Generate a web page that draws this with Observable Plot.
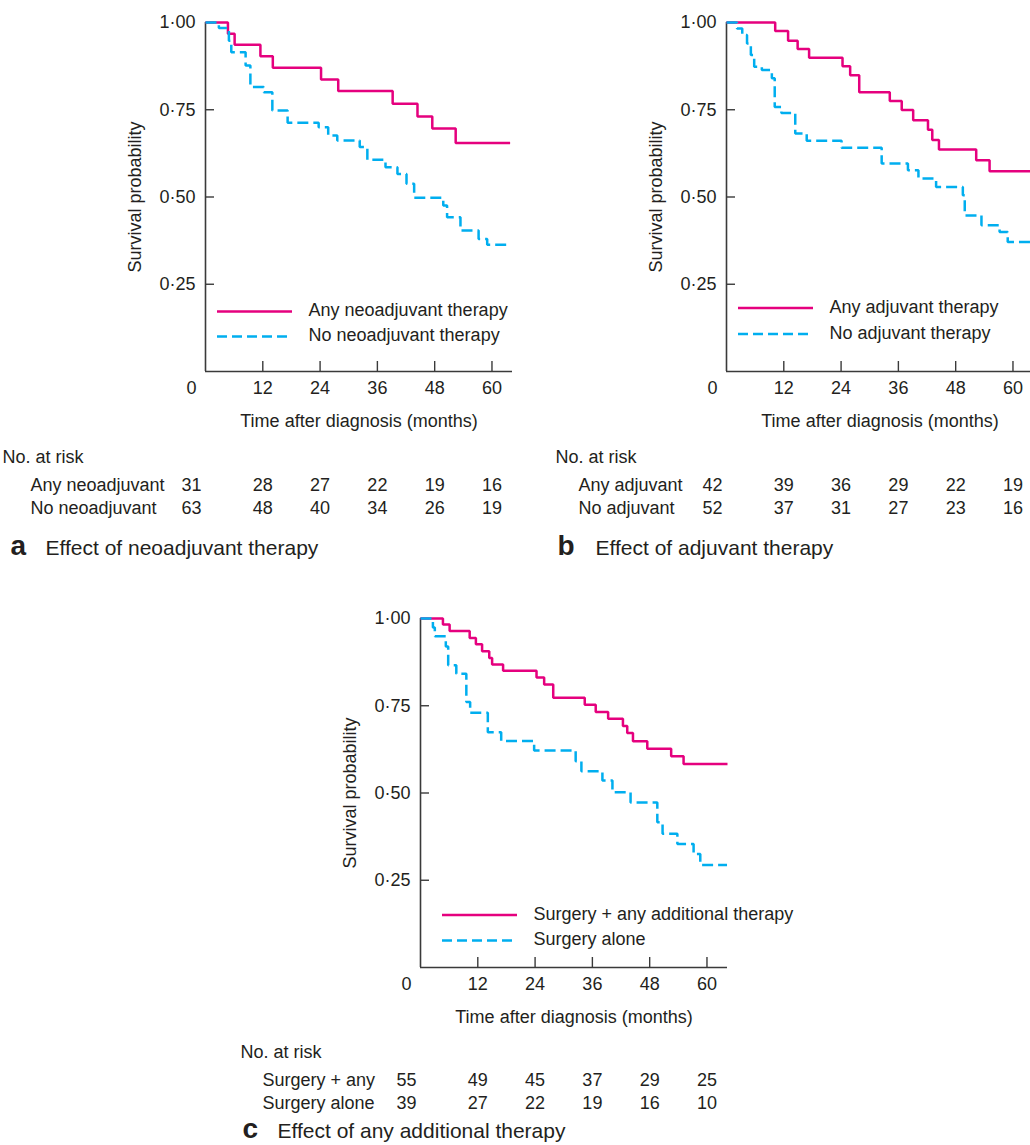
<!DOCTYPE html>
<html><head><meta charset="utf-8">
<script src="https://cdn.jsdelivr.net/npm/d3@7"></script>
<script src="https://cdn.jsdelivr.net/npm/@observablehq/plot@0.6"></script>
<style>
body{margin:0;background:#fff;}
#fig{position:relative;width:1030px;height:1145px;overflow:hidden;background:#fff;}
.panel{position:absolute;}
.panel svg{max-width:none !important;}
</style></head><body><div id="fig"></div>
<script>
// ---------- data ----------
const riskTimes = [0, 12, 24, 36, 48, 60];
const yTicks = [0.25, 0.5, 0.75, 1];
const xTitle = "Time after diagnosis (months)";
const yTitle = "Survival probability";

// Panel a
const aPinkT = [0, 4.7, 6.1, 11.5, 14.1, 24.2, 27.8, 39.2, 44.4, 47.5, 52.4, 63.8];
const aPinkS = [1, 0.968, 0.936, 0.903, 0.870, 0.837, 0.804, 0.767, 0.731, 0.696, 0.655, 0.655];
const aBlueT = [0, 2.8, 4.9, 5.4, 8.4, 9.4, 12.2, 14.0, 17.2, 23.7, 25.7, 27.6, 32.3, 33.9, 37.7, 40.2, 42.1, 43.7, 49.8, 50.6, 53.4, 57.2, 59.0, 63.9];
const aBlueS = [1, 0.984, 0.948, 0.915, 0.877, 0.815, 0.800, 0.748, 0.713, 0.700, 0.676, 0.662, 0.643, 0.607, 0.585, 0.566, 0.538, 0.498, 0.476, 0.442, 0.404, 0.380, 0.363, 0.363];
const aLegend = ["Any neoadjuvant therapy", "No neoadjuvant therapy"];
const aRows = ["Any neoadjuvant", "No neoadjuvant"];
const aRisk1 = [31, 28, 27, 22, 19, 16];
const aRisk2 = [63, 48, 40, 34, 26, 19];
const aCaption = ["a", "Effect of neoadjuvant therapy"];

// Panel b
const bPinkT = [0, 10.2, 12.9, 14.9, 17.3, 24.3, 25.9, 27.8, 34.2, 36.7, 39.1, 42.2, 43.1, 44.5, 52.3, 55.1, 64.3];
const bPinkS = [1, 0.976, 0.948, 0.924, 0.899, 0.875, 0.849, 0.800, 0.775, 0.749, 0.720, 0.693, 0.663, 0.636, 0.605, 0.574, 0.574];
const bBlueT = [0, 2.2, 3.3, 4.3, 5.1, 5.8, 7.4, 9.5, 10.1, 11.5, 14.4, 16.8, 24.1, 32.5, 38.0, 40.2, 43.9, 49.5, 49.9, 53.4, 57.2, 58.9, 64.3];
const bBlueS = [1, 0.983, 0.964, 0.940, 0.907, 0.873, 0.864, 0.840, 0.758, 0.741, 0.682, 0.661, 0.641, 0.596, 0.577, 0.553, 0.529, 0.505, 0.447, 0.419, 0.400, 0.371, 0.371];
const bLegend = ["Any adjuvant therapy", "No adjuvant therapy"];
const bRows = ["Any adjuvant", "No adjuvant"];
const bRisk1 = [42, 39, 36, 29, 22, 19];
const bRisk2 = [52, 37, 31, 27, 23, 16];
const bCaption = ["b", "Effect of adjuvant therapy"];

// Panel c
const cPinkT = [0, 4.7, 6.1, 10.3, 11.6, 12.9, 14.4, 15.0, 17.3, 24.3, 25.9, 27.8, 34.4, 36.7, 39.3, 42.4, 43.3, 44.5, 47.5, 52.5, 55.1, 64.3];
const cPinkS = [1, 0.983, 0.964, 0.944, 0.926, 0.906, 0.887, 0.868, 0.850, 0.831, 0.811, 0.773, 0.753, 0.732, 0.713, 0.692, 0.672, 0.648, 0.627, 0.605, 0.583, 0.583];
const cBlueT = [0, 2.6, 3.0, 5.3, 5.8, 7.5, 9.6, 10.4, 14.1, 16.9, 23.8, 32.5, 33.7, 38.1, 40.2, 44.0, 49.6, 50.7, 53.8, 57.2, 58.6, 64.2];
const cBlueS = [1, 0.974, 0.949, 0.920, 0.866, 0.842, 0.761, 0.730, 0.674, 0.649, 0.622, 0.591, 0.562, 0.536, 0.502, 0.473, 0.416, 0.383, 0.354, 0.325, 0.294, 0.294];
const cLegend = ["Surgery + any additional therapy", "Surgery alone"];
const cRows = ["Surgery + any", "Surgery alone"];
const cRisk1 = [55, 49, 45, 37, 29, 25];
const cRisk2 = [39, 27, 22, 19, 16, 10];
const cCaption = ["c", "Effect of any additional therapy"];

// ---------- style ----------
const PINK = "#e5007e";
const BLUE = "#00aeef";
const INK = "#231f20";
const AXIS = "#3a3a3a";
const FONT = "'Liberation Sans', Arial, Helvetica, sans-serif";

function steps(T, S) { return T.map((t, i) => ({t, s: S[i]})); }
function riskRow(arr) { return riskTimes.map((t, i) => ({t, n: arr[i]})); }
const fmtY = d => d3.format(".2f")(d).replace(".", "\u00b7");

function panel(p) {
  const H = p.height;
  const r1 = riskRow(p.risk1), r2 = riskRow(p.risk2);
  const first = d => d.t === 0, rest = d => d.t !== 0;
  const txt = {fill: INK};
  return Plot.plot({
    width: 520, height: H,
    marginTop: 22, marginLeft: 205, marginRight: 8, marginBottom: H - 371,
    x: {domain: [0, 64.3], axis: null},
    y: {domain: [0, 1], axis: null},
    style: {fontFamily: FONT, fontSize: "18px", color: INK, background: "transparent", overflow: "visible"},
    marks: [
      // axes
      Plot.ruleX([0], {stroke: AXIS, strokeWidth: 1.6}),
      Plot.ruleY([0], {stroke: AXIS, strokeWidth: 1.6}),
      Plot.tickY(yTicks, {y: d => d, insetRight: 298, stroke: AXIS, strokeWidth: 1.4}),
      Plot.tickX(riskTimes.filter(t => t > 0), {x: d => d, insetTop: 339, stroke: AXIS, strokeWidth: 1.4}),
      Plot.text(yTicks, {y: d => d, text: fmtY, frameAnchor: "left", dx: -10, textAnchor: "end", lineAnchor: "middle", ...txt}),
      Plot.text(riskTimes.filter(t => t === 0), {x: d => d, text: d => String(d), frameAnchor: "bottom", dx: -14, dy: 22, lineAnchor: "bottom", ...txt}),
      Plot.text(riskTimes.filter(t => t > 0), {x: d => d, text: d => String(d), frameAnchor: "bottom", dy: 22, lineAnchor: "bottom", ...txt}),
      Plot.text([xTitle], {text: d => d, frameAnchor: "bottom", dy: 55, lineAnchor: "bottom", ...txt}),
      Plot.text([yTitle], {text: d => d, frameAnchor: "left", dx: p.yTitleDx, rotate: -90, textAnchor: "middle", lineAnchor: "middle", ...txt}),
      // curves
      Plot.line(steps(p.pinkT, p.pinkS), {x: "t", y: "s", curve: "step-after", stroke: PINK, strokeWidth: 2.5, strokeLinecap: "butt", strokeLinejoin: "miter"}),
      Plot.line(steps(p.blueT, p.blueS), {x: "t", y: "s", curve: "step-after", stroke: BLUE, strokeWidth: 2.5, strokeDasharray: "11,5", strokeLinecap: "butt", strokeLinejoin: "miter"}),
      // legend
      Plot.ruleY([0], {dy: p.leg.dy1, insetLeft: p.leg.l, insetRight: p.leg.r, stroke: PINK, strokeWidth: 2.5}),
      Plot.ruleY([0], {dy: p.leg.dy2, insetLeft: p.leg.l, insetRight: p.leg.r, stroke: BLUE, strokeWidth: 2.5, strokeDasharray: "10,5"}),
      Plot.text(p.legend.slice(0, 1), {text: d => d, frameAnchor: "bottom-left", dx: p.leg.tx, dy: p.leg.dy1 - 1, textAnchor: "start", lineAnchor: "middle", ...txt}),
      Plot.text(p.legend.slice(1, 2), {text: d => d, frameAnchor: "bottom-left", dx: p.leg.tx, dy: p.leg.dy2 - 1, textAnchor: "start", lineAnchor: "middle", ...txt}),
      // number at risk
      Plot.text(["No. at risk"], {text: d => d, frameAnchor: "bottom-left", dx: p.tab.head, dy: p.tab.dy0, textAnchor: "start", lineAnchor: "bottom", ...txt}),
      Plot.text(p.rows.slice(0, 1), {text: d => d, frameAnchor: "bottom-left", dx: p.tab.row, dy: p.tab.dy1, textAnchor: "start", lineAnchor: "bottom", ...txt}),
      Plot.text(p.rows.slice(1, 2), {text: d => d, frameAnchor: "bottom-left", dx: p.tab.row, dy: p.tab.dy2, textAnchor: "start", lineAnchor: "bottom", ...txt}),
      Plot.text(r1.filter(first), {x: "t", text: "n", frameAnchor: "bottom", dx: -14, dy: p.tab.dy1, lineAnchor: "bottom", ...txt}),
      Plot.text(r1.filter(rest), {x: "t", text: "n", frameAnchor: "bottom", dy: p.tab.dy1, lineAnchor: "bottom", ...txt}),
      Plot.text(r2.filter(first), {x: "t", text: "n", frameAnchor: "bottom", dx: -14, dy: p.tab.dy2, lineAnchor: "bottom", ...txt}),
      Plot.text(r2.filter(rest), {x: "t", text: "n", frameAnchor: "bottom", dy: p.tab.dy2, lineAnchor: "bottom", ...txt}),
      // caption
      Plot.text(p.caption.slice(0, 1), {text: d => d, frameAnchor: "bottom-left", dx: p.cap.letter, dy: p.cap.dy, textAnchor: "start", lineAnchor: "bottom", fontWeight: "bold", fontSize: 28, ...txt}),
      Plot.text(p.caption.slice(1, 2), {text: d => d, frameAnchor: "bottom-left", dx: p.cap.text, dy: p.cap.dy, textAnchor: "start", lineAnchor: "bottom", fontSize: 21, ...txt})
    ]
  });
}

const panels = [
  {left: 0, top: 0, height: 562, pinkT: aPinkT, pinkS: aPinkS, blueT: aBlueT, blueS: aBlueS,
   legend: aLegend, rows: aRows, risk1: aRisk1, risk2: aRisk2, caption: aCaption, yTitleDx: -70,
   leg: {l: 12, r: 220, dy1: -60, dy2: -35, tx: 103},
   tab: {head: -203, row: -175, dy0: 91, dy1: 119, dy2: 142},
   cap: {letter: -195, text: -160, dy: 183}},
  {left: 521, top: 0, height: 562, pinkT: bPinkT, pinkS: bPinkS, blueT: bBlueT, blueS: bBlueS,
   legend: bLegend, rows: bRows, risk1: bRisk1, risk2: bRisk2, caption: bCaption, yTitleDx: -70,
   leg: {l: 12, r: 220, dy1: -63.5, dy2: -37.5, tx: 103},
   tab: {head: -171, row: -148, dy0: 91, dy1: 119, dy2: 142},
   cap: {letter: -169, text: -131, dy: 183}},
  {left: 215, top: 596, height: 549, pinkT: cPinkT, pinkS: cPinkS, blueT: cBlueT, blueS: cBlueS,
   legend: cLegend, rows: cRows, risk1: cRisk1, risk2: cRisk2, caption: cCaption, yTitleDx: -70,
   leg: {l: 22, r: 210, dy1: -52.5, dy2: -27, tx: 113},
   tab: {head: -180, row: -158, dy0: 90, dy1: 118, dy2: 141},
   cap: {letter: -178, text: -143, dy: 170}}
];

const fig = document.getElementById("fig");
for (const p of panels) {
  const div = document.createElement("div");
  div.className = "panel";
  div.style.left = p.left + "px";
  div.style.top = p.top + "px";
  div.appendChild(panel(p));
  fig.appendChild(div);
}
</script></body></html>
